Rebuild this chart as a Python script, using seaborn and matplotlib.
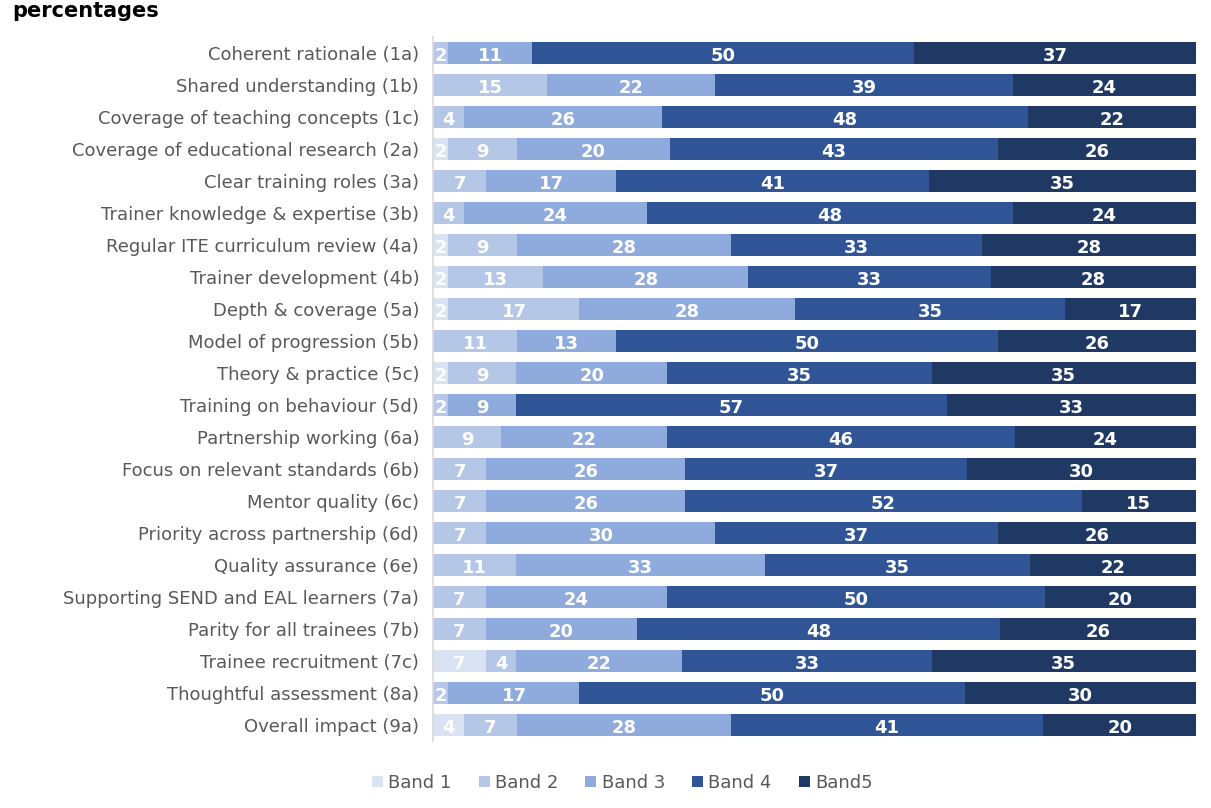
import matplotlib
matplotlib.use("Agg")
import matplotlib.pyplot as plt
from matplotlib.patches import Patch
import numpy as np
import pandas as pd
import seaborn as sns

categories = [
    "Coherent rationale (1a)",
    "Shared understanding (1b)",
    "Coverage of teaching concepts (1c)",
    "Coverage of educational research (2a)",
    "Clear training roles (3a)",
    "Trainer knowledge & expertise (3b)",
    "Regular ITE curriculum review (4a)",
    "Trainer development (4b)",
    "Depth & coverage (5a)",
    "Model of progression (5b)",
    "Theory & practice (5c)",
    "Training on behaviour (5d)",
    "Partnership working (6a)",
    "Focus on relevant standards (6b)",
    "Mentor quality (6c)",
    "Priority across partnership (6d)",
    "Quality assurance (6e)",
    "Supporting SEND and EAL learners (7a)",
    "Parity for all trainees (7b)",
    "Trainee recruitment (7c)",
    "Thoughtful assessment (8a)",
    "Overall impact (9a)",
]

band1 = [0, 0, 0, 2, 0, 0, 2, 2, 2, 0, 2, 0, 0, 0, 0, 0, 0, 0, 0, 7, 0, 4]
band2 = [2, 15, 4, 9, 7, 4, 9, 13, 17, 11, 9, 2, 9, 7, 7, 7, 11, 7, 7, 4, 2, 7]
band3 = [11, 22, 26, 20, 17, 24, 28, 28, 28, 13, 20, 9, 22, 26, 26, 30, 33, 24, 20, 22, 17, 28]
band4 = [50, 39, 48, 43, 41, 48, 33, 33, 35, 50, 35, 57, 46, 37, 52, 37, 35, 50, 48, 33, 50, 41]
band5 = [37, 24, 22, 26, 35, 24, 28, 28, 17, 26, 35, 33, 24, 30, 15, 26, 22, 20, 26, 35, 30, 20]

band_names = ["Band 1", "Band 2", "Band 3", "Band 4", "Band5"]
band_colors = ["#dae3f3", "#b4c7e7", "#8faadc", "#2f5597", "#203864"]

df = pd.DataFrame(
    {"category": categories, "Band 1": band1, "Band 2": band2,
     "Band 3": band3, "Band 4": band4, "Band5": band5}
)

# 100% stacked: each row is scaled to its own total
values = df[band_names].to_numpy(dtype=float)
shares = values / values.sum(axis=1, keepdims=True) * 100
cum = np.cumsum(shares, axis=1)

sns.set_theme(style="white")
plt.rcParams["font.family"] = ["DejaVu Sans"]

fig = plt.figure(figsize=(12.11, 8.08), dpi=100)
ax = fig.add_axes([0.3576, 0.0829, 0.63, 0.8713])

# overlapping cumulative bars, widest first, give the stacked look
for i in reversed(range(len(band_names))):
    sns.barplot(
        x=cum[:, i], y=df["category"], orient="h", color=band_colors[i],
        saturation=1, width=0.66, ax=ax, linewidth=0,
    )

# value labels centred in each segment
for r in range(len(categories)):
    for i in range(len(band_names)):
        v = values[r, i]
        if v <= 0:
            continue
        mid = cum[r, i] - shares[r, i] / 2
        ax.text(mid, r + 0.08, f"{int(v)}", ha="center", va="center",
                color="white", fontsize=13, fontweight="bold")

ax.set_xlim(0, 100)
ax.set_ylim(len(categories) - 0.5, -0.5)
ax.set_xlabel("")
ax.set_ylabel("")
ax.set_xticks([])
ax.tick_params(axis="y", length=0, pad=10, labelsize=13, labelcolor="#595959")
for side in ["top", "right", "bottom"]:
    ax.spines[side].set_visible(False)
ax.spines["left"].set_color("#d9d9d9")
ax.spines["left"].set_linewidth(1.2)

handles = [Patch(facecolor=c, edgecolor="none") for c in band_colors]
fig.legend(
    handles, band_names, loc="center", bbox_to_anchor=(0.514, 0.031),
    ncol=5, frameon=False, fontsize=13, labelcolor="#595959",
    handlelength=0.6, handleheight=0.6, handletextpad=0.3, columnspacing=1.5,
)

fig.text(0.01, 1 - 1 / 808, "percentages", ha="left", va="top",
         fontsize=15, fontweight="bold", color="black")

fig.savefig("out.png", dpi=100)
